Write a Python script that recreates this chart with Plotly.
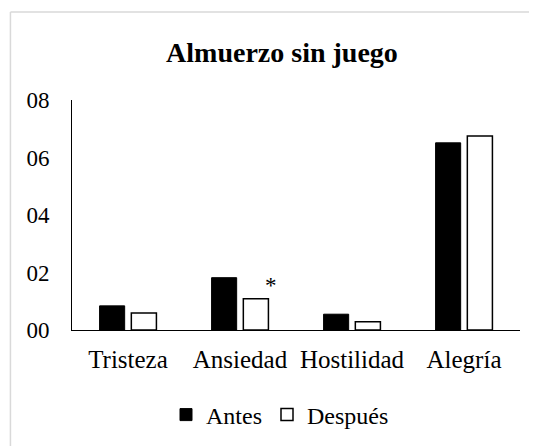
import plotly.graph_objects as go

categories = ["Tristeza", "Ansiedad", "Hostilidad", "Alegría"]
antes = [0.084, 0.182, 0.055, 0.651]
despues = [0.059, 0.109, 0.029, 0.675]
tick_vals = [0, 0.2, 0.4, 0.6, 0.8]
tick_text = ["00", "02", "04", "06", "08"]
title_text = "Almuerzo sin juego"
series_names = ["Antes", "Después"]

FONT = "Liberation Serif, Times New Roman, serif"

# the page body adds an 8px offset, so the figure is 8px smaller each way
W, H = 529, 438

fig = go.Figure()
fig.add_trace(go.Bar(
    x=categories, y=antes, name=series_names[0],
    marker=dict(color="black", line=dict(color="black", width=1)),
))
fig.add_trace(go.Bar(
    x=categories, y=despues, name=series_names[1],
    marker=dict(color="white", line=dict(color="black", width=1.5)),
))

fig.add_annotation(
    x=categories[1], y=despues[1], xref="x", yref="y",
    text="*", showarrow=False, xshift=31, yshift=13,
    font=dict(family=FONT, size=23, color="black"),
)

# chart frame: only the top and left edges fall inside the picture
fig.add_shape(type="line", xref="paper", yref="paper",
              x0=-0.1374, x1=1.2, y0=1.3826, y1=1.3826,
              line=dict(color="#D9D9D9", width=1.5))
fig.add_shape(type="line", xref="paper", yref="paper",
              x0=-0.1374, x1=-0.1374, y0=-0.6, y1=1.3826,
              line=dict(color="#D9D9D9", width=1.5))

fig.update_layout(
    width=W, height=H,
    margin=dict(l=64, r=17, t=92, b=116, autoexpand=False),
    paper_bgcolor="white", plot_bgcolor="white",
    font=dict(family=FONT, color="black", size=23),
    title=dict(text="<b>" + title_text + "</b>", x=274 / W, xanchor="center",
               y=1 - 44 / H, yanchor="middle", yref="container",
               font=dict(family=FONT, size=28, color="black")),
    barmode="group", bargap=0.433, bargroupgap=0.21,
    showlegend=True,
    legend=dict(orientation="h", xref="container", yref="container",
                x=272 / W, xanchor="center", y=1 - 407 / H, yanchor="middle",
                font=dict(family=FONT, size=24, color="black"),
                itemwidth=30, traceorder="normal"),
    xaxis=dict(showline=True, linecolor="black", linewidth=1, showgrid=False,
               ticks="", tickfont=dict(family=FONT, size=25, color="black"),
               ticklabelstandoff=7, zeroline=False, automargin=False),
    yaxis=dict(range=[0, 0.8], showline=True, linecolor="black", linewidth=1,
               showgrid=False, zeroline=False, ticks="",
               tickvals=tick_vals, ticktext=tick_text,
               tickfont=dict(family=FONT, size=23, color="black"),
               ticklabelstandoff=17, automargin=False),
)

fig.write_html("out.html")
